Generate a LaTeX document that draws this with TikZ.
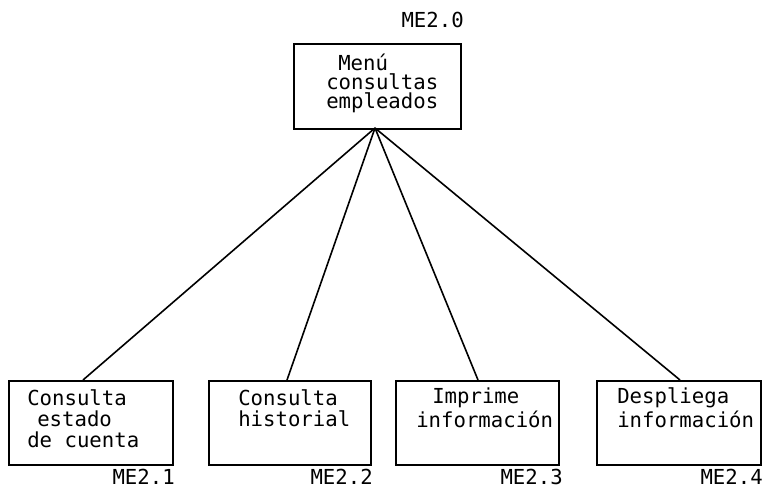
\documentclass[tikz,border=0pt]{standalone}
\usepackage{fontspec}
\setmonofont{DejaVu Sans Mono}
\begin{document}
\begin{tikzpicture}[x=0.75pt,y=-0.75pt,
  box/.style={draw,line width=1.3pt,inner sep=0pt,anchor=north west,minimum height=63pt},
  txt/.style={inner sep=0pt,anchor=west,font=\ttfamily\fontsize{15.5}{18}\selectfont},
  code/.style={inner sep=0pt,font=\ttfamily\fontsize{15.5}{18}\selectfont},
  link/.style={line width=1.2pt}]
\useasboundingbox (0,0) rectangle (767,490);
% boxes
\node[box,minimum width=125.25pt,minimum height=63.75pt] (top) at (293,43) {};
\node[box,minimum width=123pt] (b1) at (8,380) {};
\node[box,minimum width=121.5pt] (b2) at (208,380) {};
\node[box,minimum width=122.25pt] (b3) at (395,380) {};
\node[box,minimum width=123pt] (b4) at (596,380) {};
% codes
\node[code,anchor=east] (c0) at (464,20) {ME2.0};
\node[code,anchor=east] (c1) at (175,477) {ME2.1};
\node[code,anchor=east] (c2) at (373,477) {ME2.2};
\node[code,anchor=east] (c3) at (563,477) {ME2.3};
\node[code,anchor=east] (c4) at (763,477) {ME2.4};
% texts
\node[txt] (t01) at (338,62) {Menú};
\node[txt] (t02) at (326,82) {consultas};
\node[txt] (t03) at (326,103) {empleados};
\node[txt] (t11) at (27,398) {Consulta};
\node[txt] (t12) at (37,419) {estado};
\node[txt] (t13) at (27,440) {de cuenta};
\node[txt] (t21) at (238,398) {Consulta};
\node[txt] (t22) at (238,419) {historial};
\node[txt] (t31) at (432,398) {Imprime};
\node[txt] (t32) at (416,419) {información};
\node[txt] (t41) at (617,398) {Despliega};
\node[txt] (t42) at (617,419) {información};
% connectors
\coordinate (hub) at (375,128);
\coordinate (e1) at (83,380);
\coordinate (e2) at (287,380);
\coordinate (e3) at (478,380);
\coordinate (e4) at (680,380);
\draw[link] (hub) -- (e1);
\draw[link] (hub) -- (e2);
\draw[link] (hub) -- (e3);
\draw[link] (hub) -- (e4);
\end{tikzpicture}
\end{document}
